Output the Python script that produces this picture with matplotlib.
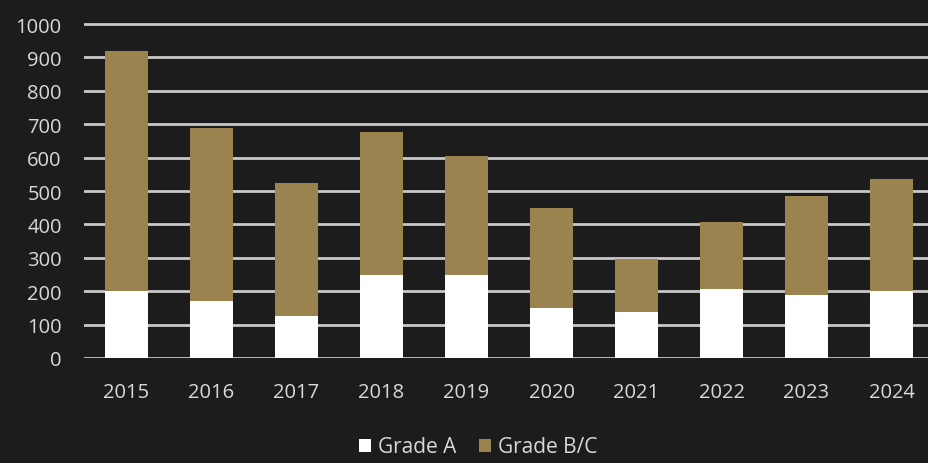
import matplotlib.pyplot as plt
import numpy as np

years = ["2015", "2016", "2017", "2018", "2019", "2020", "2021", "2022", "2023", "2024"]
grade_a = [200, 170, 125, 250, 250, 150, 137, 207, 190, 200]
total = [920, 688, 525, 676, 606, 449, 296, 406, 484, 536]
grade_bc = [t - a for t, a in zip(total, grade_a)]

bg = "#1c1c1c"
gold = "#9b8350"
txt = "#d9d9d9"

plt.rcParams['font.family'] = ['Open Sans', 'DejaVu Sans']

fig = plt.figure(figsize=(9.29, 4.64), dpi=100, facecolor=bg)
# axes box in pixels: x 84..934, y 0 at 359, 1010 at ~21.7
ax = fig.add_axes([84 / 929, (464 - 359) / 464, 850 / 929, 337.3 / 464])
ax.set_facecolor(bg)

x = np.arange(len(years))
ax.bar(x, grade_a, width=0.5, color="white", label="Grade A", zorder=3)
ax.bar(x, grade_bc, width=0.5, bottom=grade_a, color=gold, label="Grade B/C", zorder=3)

ax.set_xlim(-0.5, len(years) - 0.5)
ax.set_ylim(0, 1010)
ax.set_yticks(np.arange(0, 1001, 100))
ax.set_xticks(x)
ax.set_xticklabels(years)
ax.yaxis.grid(True, color="#c8c8c8", linewidth=2.0, zorder=0)
ax.set_axisbelow(True)
for s in ax.spines.values():
    s.set_visible(False)
ax.tick_params(axis="both", length=0, colors=txt, labelsize=14.5)
ax.tick_params(axis="y", pad=16)
ax.tick_params(axis="x", pad=17)

leg = fig.legend(loc="center", bbox_to_anchor=(478 / 929, (464 - 448) / 464), ncol=2,
                 frameon=False, fontsize=15, handlelength=0.6, handleheight=0.6,
                 handletextpad=0.3, columnspacing=1.1)
for t in leg.get_texts():
    t.set_color(txt)

fig.savefig("out.png", dpi=100, facecolor=bg)
